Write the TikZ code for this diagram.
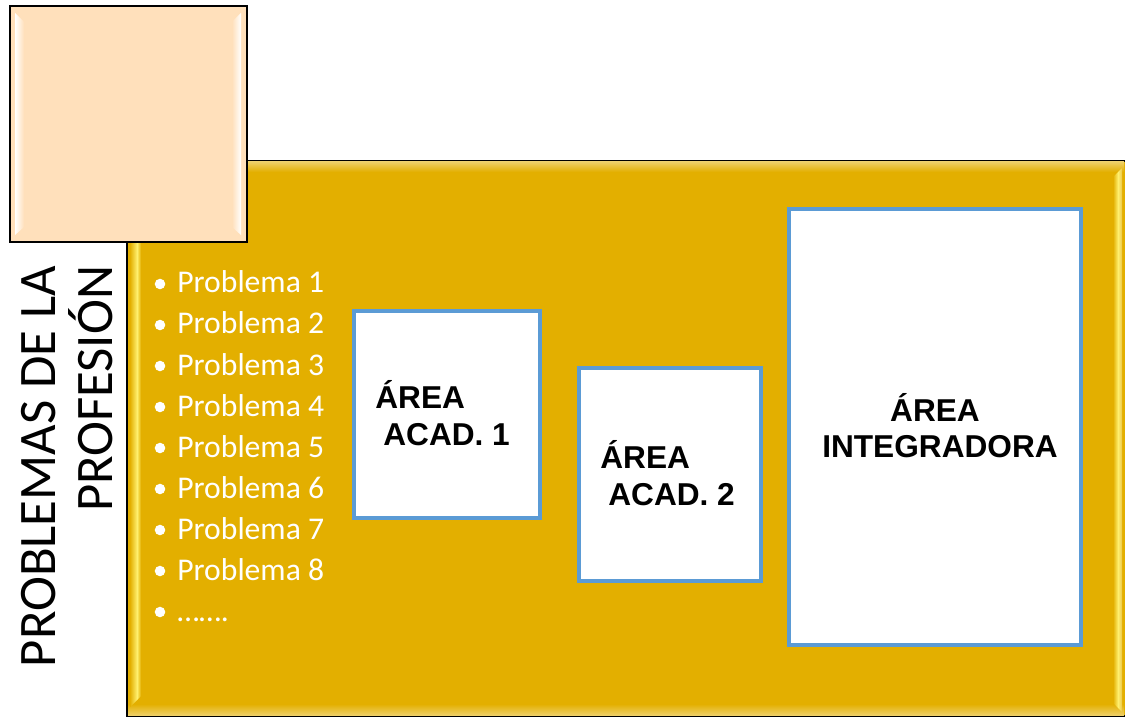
\documentclass[tikz,border=0pt]{standalone}
\usepackage{fontspec}
\setmainfont{Carlito}
\newfontfamily\arialfont{Liberation Sans}
\usetikzlibrary{positioning}
\usepackage{xcolor}
\definecolor{BoardGold}{RGB}{227,175,0}
\definecolor{TilePeach}{RGB}{255,224,187}
\definecolor{AreaBlue}{RGB}{91,155,213}
\definecolor{GlowYellow}{RGB}{255,240,110}

\begin{document}
\begin{tikzpicture}[
  x=0.02cm, y=-0.02cm,
  every node/.style={inner sep=0pt},
  panel/.style={draw=black, line width=1.2pt, fill=#1},
  areabox/.style={draw=AreaBlue, line width=2.6pt, fill=white},
  areatext/.style={font=\arialfont\bfseries\fontsize{18}{21}\selectfont, text=black},
  probitem/.style={font=\fontsize{18}{22}\selectfont, text=white, anchor=base west}
  ]
\useasboundingbox (0,0) rectangle (1125,719);

% Gold board
\node[panel=BoardGold, minimum width=19.98cm, minimum height=11.1cm] (board) at (626.5,438.5) {};
\shade[top color=BoardGold!60!white, bottom color=BoardGold] (128,162) rectangle (1124,172);
\shade[top color=BoardGold, bottom color=BoardGold!60!white] (128,704) rectangle (1124,715);
\shade[left color=BoardGold, right color=GlowYellow] (130,243) -- (137,243) -- (137,700) -- (130,707) -- cycle;
\shade[left color=GlowYellow, right color=BoardGold] (137,243) -- (141,243) -- (141,696) -- (137,700) -- cycle;
\shade[left color=BoardGold, right color=GlowYellow] (1113,177) -- (1118,172) -- (1118,708) -- (1113,703) -- cycle;
\shade[left color=GlowYellow, right color=BoardGold!70!white] (1118,172) -- (1122,168) -- (1122,712) -- (1118,708) -- cycle;

% Peach tile
\node[panel=TilePeach, minimum width=4.74cm, minimum height=4.72cm] (tile) at (128.5,124) {};
\shade[left color=white, right color=TilePeach] (15,13) -- (24,22) -- (24,227) -- (15,235) -- cycle;
\shade[left color=TilePeach, right color=white] (232,22) -- (241,13) -- (241,235) -- (232,227) -- cycle;

% Title
\node[rotate=90, align=right, font=\fontsize{30}{32.5}\selectfont] (title) at (67.5,466.5) {PROBLEMAS DE LA\\PROFESIÓN};

% Problem list
\foreach \i in {1,...,8}{
  \node[probitem] (prob\i) at (177,{293+41*(\i-1)}) {Problema \i};
  \fill[white] ([xshift=-0.34cm, yshift=0.18cm]prob\i.base west) circle (3pt);
}
\node[probitem] (probmore) at (177,621) {…….};
\fill[white] ([xshift=-0.34cm, yshift=0.18cm]probmore.base west) circle (3pt);

% Area boxes
\node[areabox, minimum width=3.72cm, minimum height=4.14cm] (acad1) at (447,414.5) {};
\node[areabox, minimum width=3.64cm, minimum height=4.26cm] (acad2) at (670,474.5) {};
\node[areabox, minimum width=5.84cm, minimum height=8.72cm] (integ) at (935,427) {};

\node[areatext, anchor=base west] (acad1a) at (375,408) {ÁREA};
\node[areatext, anchor=base west] (acad1b) at (383,445) {ACAD. 1};
\node[areatext, anchor=base west] (acad2a) at (600,468) {ÁREA};
\node[areatext, anchor=base west] (acad2b) at (608,505) {ACAD. 2};
\node[areatext, anchor=base] (intega) at (935,421) {ÁREA};
\node[areatext, anchor=base] (integb) at (940,457) {INTEGRADORA};
\end{tikzpicture}
\end{document}
